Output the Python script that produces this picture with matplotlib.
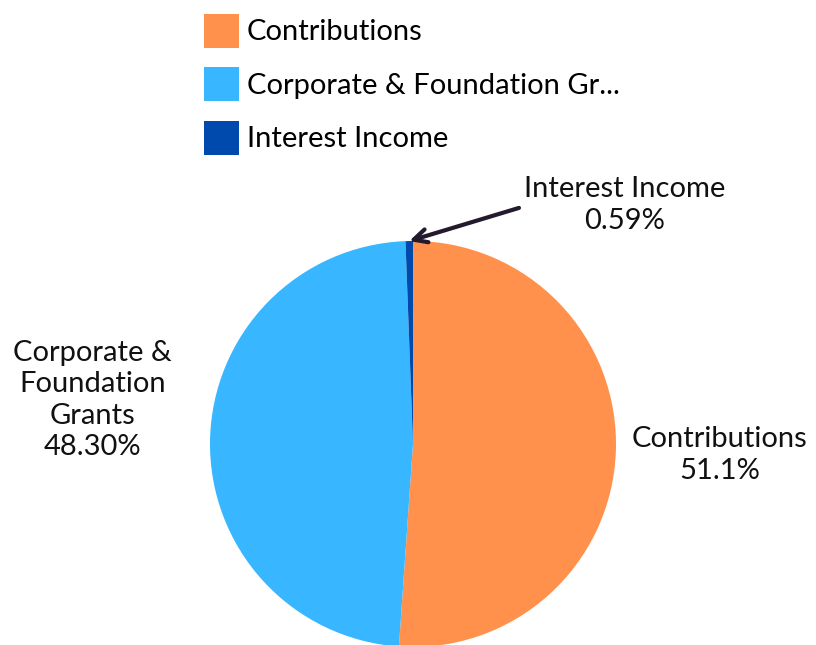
import matplotlib
matplotlib.use('Agg')
import matplotlib.pyplot as plt
import numpy as np

labels = ['Contributions', 'Corporate & Foundation Grants', 'Interest Income']
legend_labels = ['Contributions', 'Corporate & Foundation Gr...', 'Interest Income']
values = [51.1, 48.30, 0.59]
value_text = ['51.1%', '48.30%', '0.59%']
colors = ['#FF914D', '#38B6FF', '#004AAD']

plt.rcParams['font.family'] = ['Lato', 'DejaVu Sans']
fs = 21
txt_color = '#111111'

fig = plt.figure(figsize=(8.16, 6.45), dpi=100)
ax = fig.add_axes([210 / 816, -2 / 645, 406 / 816, 406 / 645])
wedges, _ = ax.pie(values, colors=colors, startangle=90, counterclock=False,
                   radius=1, wedgeprops=dict(linewidth=0))
ax.set_xlim(-1, 1)
ax.set_ylim(-1, 1)
ax.set_aspect('equal')
ax.axis('off')

# labels
ax.text(1.51, -0.054, 'Contributions\n' + value_text[0], ha='center', va='center',
        fontsize=fs, color=txt_color, linespacing=1.25, clip_on=False)
ax.text(-1.58, 0.217, 'Corporate &\nFoundation\nGrants\n' + value_text[1], ha='center',
        va='center', fontsize=fs, color=txt_color, linespacing=1.25, clip_on=False)
ax.text(1.044, 1.177, 'Interest Income\n' + value_text[2], ha='center', va='center',
        fontsize=fs, color=txt_color, linespacing=1.25, clip_on=False)

# arrow to the tiny slice
w = wedges[2]
mid = np.deg2rad((w.theta1 + w.theta2) / 2)
ax.annotate('', xy=(np.cos(mid), np.sin(mid)), xytext=(0.522, 1.163),
            arrowprops=dict(arrowstyle='->', lw=3, color='#231a2e',
                            shrinkA=0, shrinkB=0, mutation_scale=24),
            annotation_clip=False)

fig.legend(wedges, legend_labels, loc='upper left', bbox_to_anchor=(198 / 816, 1 - 8 / 645),
           frameon=False, fontsize=fs, handlelength=1.2, handleheight=1.4,
           labelspacing=0.68, handletextpad=0.27, borderpad=0.2, borderaxespad=0)

plt.savefig('out.png', dpi=100)
